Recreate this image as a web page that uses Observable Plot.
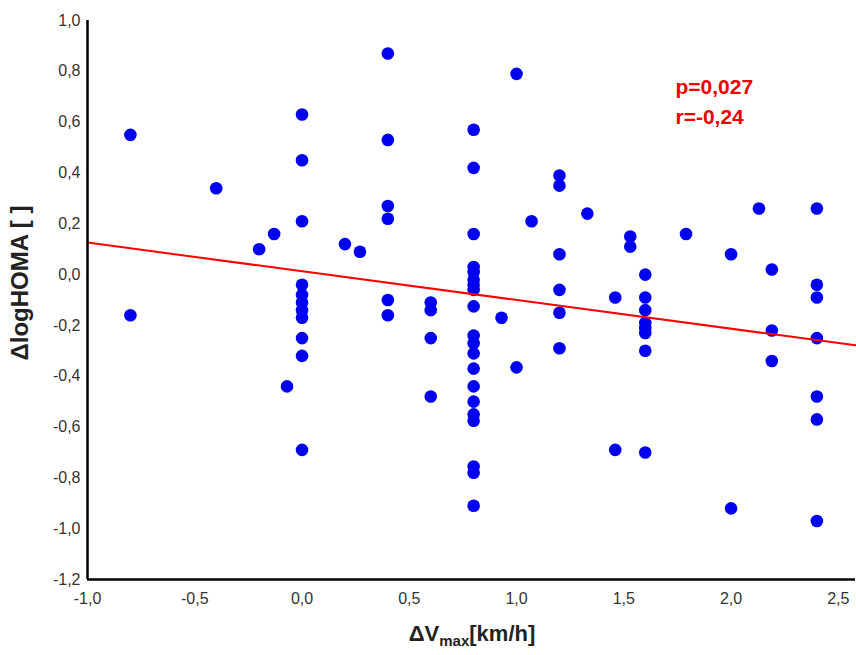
<!DOCTYPE html>
<html>
<head>
<meta charset="utf-8">
<script src="https://cdn.jsdelivr.net/npm/d3@7"></script>
<script src="https://cdn.jsdelivr.net/npm/@observablehq/plot@0.6"></script>
<style>
  html, body { margin: 0; padding: 0; background: #ffffff; }
  #chart { width: 856px; height: 655px; }
</style>
</head>
<body>
<div id="chart"></div>
<script>
// ---- data ----
const dVmax = [
  -0.8, -0.8,
  -0.4,
  -0.2,
  -0.13,
  -0.07,
  0, 0, 0, 0, 0, 0, 0, 0, 0, 0, 0,
  0.2,
  0.27,
  0.4, 0.4, 0.4, 0.4, 0.4, 0.4,
  0.6, 0.6, 0.6, 0.6,
  0.8, 0.8, 0.8, 0.8, 0.8, 0.8, 0.8, 0.8, 0.8, 0.8, 0.8, 0.8, 0.8, 0.8, 0.8, 0.8, 0.8, 0.8, 0.8, 0.8,
  0.93,
  1.0, 1.0,
  1.07,
  1.2, 1.2, 1.2, 1.2, 1.2, 1.2,
  1.33,
  1.46, 1.46,
  1.53, 1.53,
  1.6, 1.6, 1.6, 1.6, 1.6, 1.6, 1.6, 1.6,
  1.79,
  2.0, 2.0,
  2.13,
  2.19, 2.19, 2.19,
  2.4, 2.4, 2.4, 2.4, 2.4, 2.4, 2.4
];
const dLogHOMA = [
  0.55, -0.16,
  0.34,
  0.10,
  0.16,
  -0.44,
  0.63, 0.45, 0.21, -0.04, -0.08, -0.11, -0.14, -0.17, -0.25, -0.32, -0.69,
  0.12,
  0.09,
  0.87, 0.53, 0.27, 0.22, -0.10, -0.16,
  -0.11, -0.14, -0.25, -0.48,
  0.57, 0.42, 0.16, 0.03, 0.01, -0.02, -0.04, -0.06, -0.125, -0.24, -0.27, -0.31, -0.37, -0.44, -0.50, -0.55, -0.575, -0.755, -0.78, -0.91,
  -0.17,
  0.79, -0.365,
  0.21,
  0.39, 0.35, 0.08, -0.06, -0.15, -0.29,
  0.24,
  -0.09, -0.69,
  0.15, 0.11,
  0.0, -0.09, -0.14, -0.19, -0.21, -0.23, -0.30, -0.70,
  0.16,
  0.08, -0.92,
  0.26,
  0.02, -0.22, -0.34,
  0.26, -0.04, -0.09, -0.25, -0.48, -0.57, -0.97
];
// regression line shown in the reference (intercept, slope)
const regIntercept = 0.013;
const regSlope = -0.113;
const statsText = ["p=0,027", "r=-0,24"];

const xTicks = [-1.0, -0.5, 0.0, 0.5, 1.0, 1.5, 2.0, 2.5];
const yTicks = [-1.2, -1.0, -0.8, -0.6, -0.4, -0.2, 0.0, 0.2, 0.4, 0.6, 0.8, 1.0];
const xDomain = [-1.0, 2.58];
const yDomain = [-1.2, 1.0];

// ---- build ----
const points = dVmax.map((x, i) => ({x, y: dLogHOMA[i]}));
const regLine = xDomain.map(x => ({x, y: regIntercept + regSlope * x}));
const fmt = d => d.toFixed(1).replace(".", ",");

const W = 856, H = 655;
const mL = 87, mR = 1, mT = 20, mB = 76;
const FONT = "'Liberation Sans', Arial, sans-serif";

const plot = Plot.plot({
  width: W, height: H,
  marginLeft: mL, marginRight: mR, marginTop: mT, marginBottom: mB,
  style: {fontFamily: FONT, fontSize: "16px", color: "#333", background: "#ffffff"},
  x: {domain: xDomain, label: null},
  y: {domain: yDomain, label: null},
  marks: [
    Plot.axisX({ticks: xTicks, tickFormat: fmt, tickSize: 0, tickPadding: 13, label: null, fontSize: 16}),
    Plot.axisY({ticks: yTicks, tickFormat: fmt, tickSize: 0, tickPadding: 7, label: null, fontSize: 16}),
    Plot.dot(points, {x: "x", y: "y", r: 6.3, fill: "#0000f0", stroke: "none"}),
    Plot.line(regLine, {x: "x", y: "y", stroke: "#ff0000", strokeWidth: 2}),
    Plot.ruleX([xDomain[0]], {stroke: "#000", strokeWidth: 2.5}),
    Plot.ruleY([yDomain[0]], {stroke: "#000", strokeWidth: 2.5}),
    Plot.text([statsText.join("\n")], {
      frameAnchor: "top-left", dx: 588, dy: 53, textAnchor: "start",
      lineHeight: 1.4, fill: "#ee0000", fontWeight: "bold", fontSize: 21
    })
  ]
});
document.getElementById("chart").appendChild(plot);

// axis titles with subscript
const svg = d3.select(plot);
const xt = svg.append("text")
  .attr("x", 472).attr("y", 641)
  .attr("text-anchor", "middle")
  .attr("font-family", FONT)
  .attr("font-weight", "bold").attr("font-size", 22).attr("fill", "#222");
xt.append("tspan").text("ΔV");
xt.append("tspan").attr("font-size", 15).attr("dy", 5).text("max");
xt.append("tspan").attr("dy", -5).text("[km/h]");

svg.append("text")
  .attr("transform", "translate(28,283) rotate(-90)")
  .attr("text-anchor", "middle")
  .attr("font-family", FONT)
  .attr("font-weight", "bold").attr("font-size", 24).attr("fill", "#222")
  .text("ΔlogHOMA [ ]");
</script>
</body>
</html>
